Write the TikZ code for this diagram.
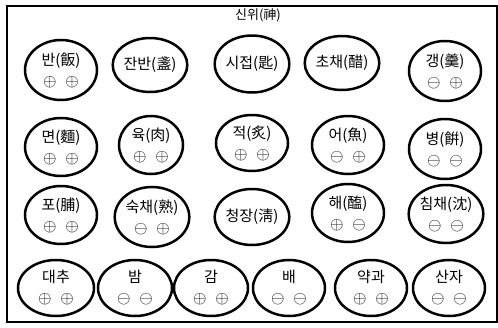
\documentclass[tikz,border=0pt]{standalone}
\usepackage{fontspec}
\setmainfont{Noto Sans CJK KR}
\usepackage{tikz}
\usetikzlibrary{shapes.geometric}

\newcommand{\pl}{$\oplus$}
\newcommand{\mi}{$\ominus$}
\newcommand{\sgn}[2]{{\fontsize{17}{17}\selectfont #1\hspace{9pt}#2}}

\begin{document}
\begin{tikzpicture}[
  x=1pt, y=-1pt,
  dish/.style={ellipse, draw, line width=2.5pt, minimum width=72pt, minimum height=60pt,
    inner sep=0pt, align=center, font=\fontsize{15}{17}\selectfont},
  small/.style={minimum width=62pt, minimum height=54pt},
  fruit/.style={minimum width=76pt, minimum height=56pt}
]
\useasboundingbox (0,0) rectangle (498,327);
\draw[line width=2pt] (7,6) rectangle (497,322);
\node[font=\fontsize{13}{15}\selectfont] (title) at (258,15) {신위(神)};

% first row
\node[dish] (ban) at (61,70) {반(飯)\\[4pt]\sgn{\pl}{\pl}};
\node[dish, small] (janban) at (150,65) {잔반(盞)};
\node[dish, minimum width=70pt, minimum height=57pt] (sijeop) at (252,64) {시접(匙)};
\node[dish, small] (chochae) at (342,63) {초채(醋)};
\node[dish] (gaeng) at (445,71) {갱(羹)\\[4pt]\sgn{\mi}{\pl}};

% second row
\node[dish, minimum height=58pt] (myeon) at (61,147) {면(麵)\\[4pt]\sgn{\pl}{\pl}};
\node[dish, minimum width=64pt, minimum height=58pt] (yuk) at (151,145) {육(肉)\\[4pt]\sgn{\pl}{\pl}};
\node[dish, minimum height=56pt] (jeok) at (252,143) {적(炙)\\[4pt]\sgn{\pl}{\pl}};
\node[dish, minimum height=58pt] (eo) at (348,145) {어(魚)\\[4pt]\sgn{\mi}{\pl}};
\node[dish] (byeong) at (445,149) {병(餠)\\[4pt]\sgn{\mi}{\mi}};

% third row
\node[dish, minimum height=58pt] (po) at (61,215) {포(脯)\\[4pt]\sgn{\pl}{\pl}};
\node[dish, minimum width=66pt] (sukchae) at (152,217) {숙채(熟)\\[4pt]\sgn{\mi}{\pl}};
\node[dish, minimum width=70pt, minimum height=56pt] (cheongjang) at (252,217) {청장(淸)};
\node[dish, minimum height=58pt] (hae) at (348,213) {해(醢)\\[4pt]\sgn{\pl}{\mi}};
\node[dish, minimum height=58pt] (chimchae) at (446,214) {침채(沈)\\[4pt]\sgn{\mi}{\mi}};

% fruits
\node[dish, fruit] (daechu) at (56,288) {대추\\[4pt]\sgn{\pl}{\pl}};
\node[dish, fruit, minimum width=74pt] (bam) at (135,288) {밤\\[4pt]\sgn{\mi}{\mi}};
\node[dish, fruit, minimum width=74pt] (gam) at (211,288) {감\\[4pt]\sgn{\pl}{\pl}};
\node[dish, fruit, minimum width=72pt] (bae) at (289,288) {배\\[4pt]\sgn{\mi}{\mi}};
\node[dish, fruit, minimum width=72pt] (yakgwa) at (371,288) {약과\\[4pt]\sgn{\pl}{\pl}};
\node[dish, fruit, minimum width=72pt] (sanja) at (449,288) {산자\\[4pt]\sgn{\mi}{\mi}};
\end{tikzpicture}
\end{document}
